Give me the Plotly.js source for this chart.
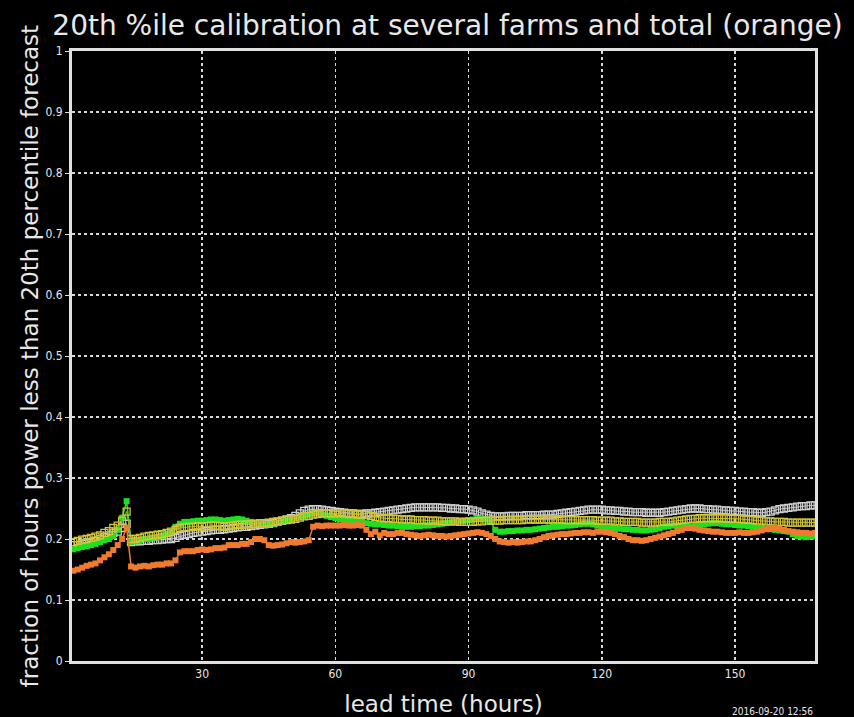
<!DOCTYPE html>
<html>
<head>
<meta charset="utf-8">
<script src="https://cdn.plot.ly/plotly-3.0.1.min.js"></script>
<style>html,body{margin:0;padding:0;background:#000;}#chart{width:854px;height:717px;}</style>
</head>
<body>
<div id="chart"></div>
<script>
// lead time in hours (1..168)
const hours = Array.from({length: 168}, (_, i) => i + 1);

// total (orange)
const totalOrange = [
0.148,0.150,0.153,0.156,0.158,0.160,0.165,0.170,0.175,0.182,
0.190,0.200,0.218,0.155,0.153,0.155,0.156,0.155,0.157,0.158,
0.158,0.160,0.160,0.165,0.178,0.180,0.180,0.180,0.182,0.183,
0.182,0.183,0.185,0.185,0.186,0.190,0.190,0.190,0.192,0.192,
0.195,0.200,0.200,0.198,0.190,0.189,0.190,0.191,0.193,0.195,
0.194,0.195,0.196,0.198,0.220,0.222,0.221,0.222,0.222,0.222,
0.222,0.223,0.222,0.222,0.223,0.222,0.215,0.208,0.212,0.206,
0.210,0.208,0.208,0.210,0.210,0.208,0.207,0.206,0.205,0.206,
0.207,0.206,0.205,0.205,0.204,0.205,0.206,0.207,0.208,0.209,
0.210,0.211,0.210,0.208,0.205,0.200,0.196,0.195,0.194,0.195,
0.194,0.195,0.196,0.196,0.198,0.200,0.203,0.205,0.206,0.207,
0.208,0.208,0.209,0.210,0.210,0.211,0.211,0.210,0.212,0.212,
0.211,0.210,0.208,0.205,0.203,0.200,0.198,0.198,0.197,0.198,
0.200,0.202,0.204,0.206,0.208,0.210,0.213,0.215,0.218,0.218,
0.217,0.215,0.214,0.213,0.212,0.212,0.211,0.210,0.210,0.210,
0.211,0.210,0.210,0.211,0.212,0.214,0.216,0.218,0.218,0.217,
0.215,0.213,0.212,0.211,0.210,0.210,0.209,0.210];

// farm (green)
const farmGreen = [
0.183,0.185,0.187,0.188,0.190,0.192,0.195,0.198,0.200,0.205,
0.215,0.235,0.262,0.195,0.196,0.198,0.200,0.200,0.202,0.203,
0.205,0.208,0.212,0.220,0.225,0.228,0.228,0.229,0.230,0.230,
0.231,0.232,0.232,0.231,0.230,0.231,0.232,0.233,0.232,0.230,
0.228,0.226,0.225,0.224,0.224,0.225,0.226,0.228,0.230,0.232,
0.234,0.236,0.238,0.240,0.242,0.242,0.240,0.238,0.236,0.234,
0.232,0.232,0.231,0.230,0.230,0.229,0.226,0.225,0.224,0.224,
0.223,0.222,0.222,0.221,0.220,0.220,0.220,0.221,0.221,0.222,
0.222,0.223,0.224,0.225,0.226,0.227,0.228,0.229,0.230,0.231,
0.232,0.233,0.233,0.232,0.228,0.215,0.212,0.212,0.213,0.213,
0.214,0.214,0.215,0.215,0.216,0.217,0.218,0.219,0.220,0.220,
0.221,0.222,0.222,0.223,0.224,0.225,0.225,0.224,0.222,0.220,
0.219,0.218,0.218,0.217,0.216,0.216,0.215,0.215,0.214,0.214,
0.215,0.216,0.218,0.220,0.221,0.222,0.222,0.222,0.221,0.221,
0.222,0.223,0.224,0.225,0.226,0.226,0.225,0.224,0.224,0.223,
0.222,0.222,0.221,0.220,0.219,0.218,0.217,0.216,0.215,0.214,
0.213,0.212,0.208,0.205,0.204,0.203,0.204,0.204];

// farm (yellow open squares)
const farmYellow = [
0.195,0.197,0.199,0.200,0.202,0.204,0.206,0.210,0.213,0.218,
0.222,0.230,0.245,0.200,0.200,0.202,0.204,0.205,0.206,0.207,
0.208,0.210,0.212,0.215,0.218,0.219,0.220,0.220,0.221,0.220,
0.221,0.222,0.222,0.221,0.220,0.221,0.222,0.223,0.223,0.224,
0.224,0.225,0.226,0.226,0.227,0.228,0.229,0.230,0.231,0.232,
0.233,0.235,0.237,0.238,0.240,0.241,0.242,0.242,0.242,0.242,
0.242,0.242,0.241,0.241,0.240,0.240,0.239,0.238,0.236,0.235,
0.234,0.234,0.233,0.233,0.232,0.232,0.232,0.231,0.231,0.231,
0.230,0.230,0.230,0.229,0.229,0.229,0.229,0.228,0.228,0.228,
0.228,0.229,0.229,0.230,0.230,0.230,0.230,0.231,0.231,0.231,
0.231,0.231,0.232,0.232,0.232,0.232,0.232,0.232,0.232,0.232,
0.232,0.231,0.231,0.231,0.231,0.231,0.231,0.231,0.230,0.230,
0.230,0.230,0.229,0.229,0.228,0.228,0.228,0.228,0.227,0.227,
0.227,0.227,0.228,0.228,0.228,0.229,0.230,0.231,0.232,0.233,
0.233,0.234,0.234,0.234,0.234,0.234,0.234,0.234,0.233,0.233,
0.233,0.232,0.232,0.231,0.230,0.230,0.229,0.229,0.228,0.228,
0.228,0.227,0.227,0.227,0.227,0.227,0.227,0.227];

// farm (white open squares)
const farmWhite = [
0.190,0.190,0.192,0.193,0.195,0.197,0.200,0.203,0.206,0.210,
0.212,0.218,0.225,0.195,0.196,0.196,0.197,0.197,0.198,0.198,
0.199,0.200,0.200,0.202,0.205,0.207,0.208,0.210,0.211,0.212,
0.213,0.214,0.215,0.215,0.216,0.217,0.218,0.219,0.220,0.220,
0.221,0.222,0.223,0.224,0.225,0.226,0.228,0.230,0.232,0.234,
0.238,0.242,0.246,0.248,0.249,0.249,0.248,0.247,0.246,0.245,
0.244,0.243,0.242,0.242,0.241,0.241,0.242,0.242,0.243,0.244,
0.245,0.246,0.247,0.248,0.249,0.250,0.251,0.252,0.252,0.252,
0.252,0.252,0.252,0.251,0.251,0.250,0.250,0.249,0.249,0.248,
0.247,0.245,0.242,0.240,0.238,0.237,0.237,0.237,0.238,0.238,
0.238,0.238,0.239,0.239,0.239,0.239,0.240,0.240,0.240,0.241,
0.242,0.243,0.244,0.245,0.246,0.247,0.248,0.248,0.248,0.248,
0.247,0.247,0.246,0.246,0.245,0.245,0.244,0.244,0.244,0.243,
0.243,0.243,0.243,0.244,0.245,0.246,0.247,0.248,0.249,0.250,
0.250,0.250,0.249,0.249,0.248,0.248,0.247,0.247,0.246,0.246,
0.245,0.245,0.244,0.244,0.243,0.243,0.244,0.245,0.247,0.249,
0.250,0.251,0.252,0.253,0.254,0.254,0.255,0.255];

const xTickVals = [30, 60, 90, 120, 150];
const yTickVals = [0, 0.1, 0.2, 0.3, 0.4, 0.5, 0.6, 0.7, 0.8, 0.9, 1];
const yTickText = ['0', '0.1', '0.2', '0.3', '0.4', '0.5', '0.6', '0.7', '0.8', '0.9', '1'];

const FONT = '"DejaVu Sans", sans-serif';
const FONTC = '"DejaVu Sans Condensed", "DejaVu Sans", sans-serif';

const traces = [
  {x: hours, y: farmWhite, mode: 'lines+markers', name: 'farm A',
   line: {color: '#bdbdbd', width: 1},
   marker: {symbol: 'square-open', size: 7, color: '#d0d0d0', line: {width: 1.3}}},
  {x: hours, y: farmGreen, mode: 'lines+markers', name: 'farm B',
   line: {color: '#1ee01e', width: 1.5},
   marker: {symbol: 'square', size: 6, color: '#1ee01e'}},
  {x: hours, y: farmYellow, mode: 'lines+markers', name: 'farm C',
   line: {color: '#b8b030', width: 1},
   marker: {symbol: 'square-open', size: 7, color: '#cfc63c', line: {width: 1.3}}},
  {x: hours, y: totalOrange, mode: 'lines+markers', name: 'total',
   line: {color: '#f07a2e', width: 1.5},
   marker: {symbol: 'square', size: 6, color: '#f07a2e'}}
];

const layout = {
  width: 854, height: 717,
  paper_bgcolor: '#000', plot_bgcolor: '#000',
  showlegend: false,
  margin: {l: 72, r: 39, t: 51, b: 56},
  font: {family: FONT, color: '#e8e8e8'},
  title: {text: '20th %ile calibration at several farms and total (orange)',
          font: {family: FONT, size: 28, color: '#e8e8e8'},
          x: 0.524, xanchor: 'center', y: 0.965, yanchor: 'middle'},
  xaxis: {
    range: [0.7, 168], tickvals: xTickVals, ticktext: xTickVals.map(String),
    tickfont: {family: FONTC, size: 12, color: '#e8e8e8'}, ticks: '',
    showgrid: true, gridcolor: '#d8d8d8', griddash: 'dot', gridwidth: 1.5,
    showline: true, mirror: true, linecolor: '#e0e0e0', linewidth: 3,
    zeroline: false,
    title: {text: 'lead time (hours)', font: {family: FONT, size: 23, color: '#e8e8e8'}, standoff: 16}
  },
  yaxis: {
    range: [0, 1], tickvals: yTickVals, ticktext: yTickText,
    tickfont: {family: FONTC, size: 12, color: '#e8e8e8'}, ticks: 'outside', ticklen: 4, tickcolor: '#e0e0e0',
    showgrid: true, gridcolor: '#d8d8d8', griddash: 'dot', gridwidth: 1.5,
    showline: true, mirror: true, linecolor: '#e0e0e0', linewidth: 3,
    zeroline: false
  },
  annotations: [
    {text: 'fraction of hours power less than 20th percentile forecast',
     xref: 'paper', yref: 'paper', x: -0.056, y: 0.5, xanchor: 'center', yanchor: 'middle',
     textangle: -90, showarrow: false, font: {family: FONT, size: 23, color: '#e8e8e8'}},
    {text: '2016-09-20 12:56', xref: 'paper', yref: 'paper', x: 1.0, y: -0.082,
     xanchor: 'right', yanchor: 'middle', showarrow: false,
     font: {family: FONTC, size: 10, color: '#e8e8e8'}}
  ]
};

Plotly.newPlot('chart', traces, layout, {displayModeBar: false, staticPlot: true});
</script>
</body>
</html>
